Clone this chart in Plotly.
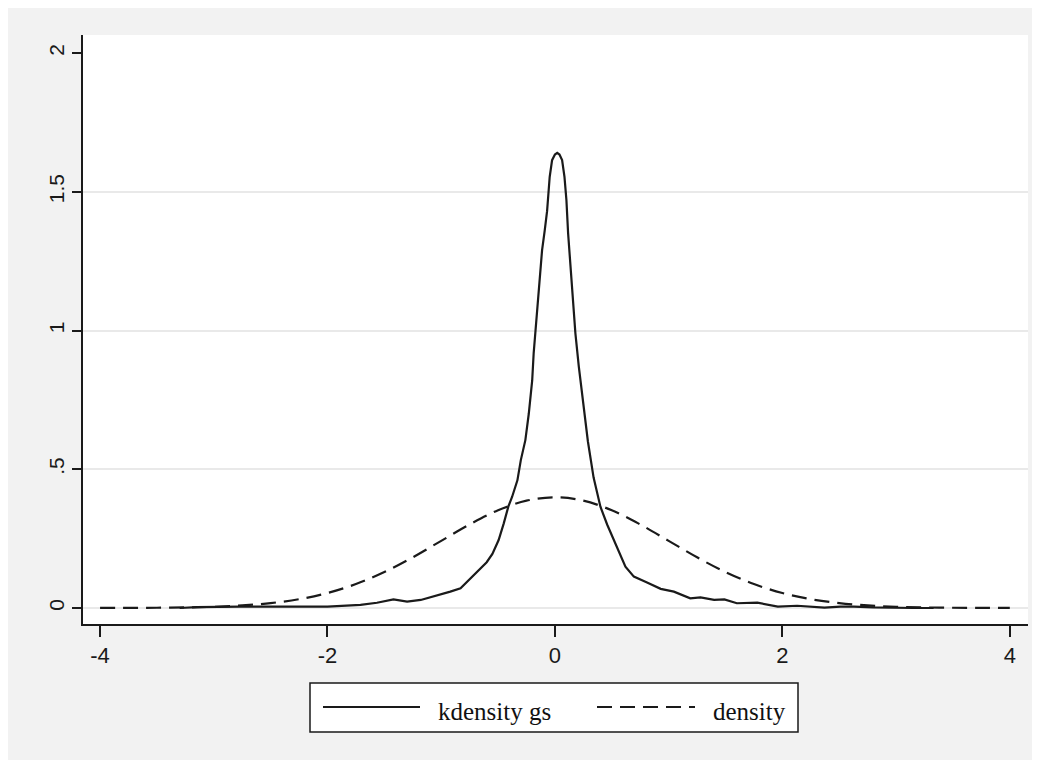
import plotly.graph_objects as go

# ---- data ----
kd_x = [-3.30, -3.15, -2.77, -2.40, -2.00, -1.71, -1.565, -1.42, -1.30, -1.18, -1.07,
        -0.92, -0.83, -0.77, -0.72, -0.66, -0.60, -0.55, -0.495, -0.45, -0.41, -0.377,
        -0.33, -0.30, -0.26, -0.23, -0.20, -0.187, -0.157, -0.134, -0.113, -0.09, -0.069,
        -0.046, -0.025, 0.00, 0.02, 0.04, 0.063, 0.084, 0.101, 0.116, 0.136, 0.16, 0.18,
        0.21, 0.225, 0.25, 0.29, 0.34, 0.40, 0.46, 0.533, 0.62, 0.694, 0.75, 0.81, 0.93,
        1.046, 1.19, 1.28, 1.40, 1.49, 1.60, 1.78, 1.96, 2.13, 2.37, 2.51, 2.63, 2.80,
        3.16, 3.33]
kd_y = [0.000, 0.003, 0.005, 0.004, 0.005, 0.011, 0.019, 0.031, 0.023, 0.029, 0.041,
        0.059, 0.071, 0.095, 0.118, 0.140, 0.165, 0.195, 0.245, 0.305, 0.365, 0.400,
        0.460, 0.533, 0.605, 0.700, 0.820, 0.918, 1.062, 1.180, 1.290, 1.360, 1.430,
        1.554, 1.614, 1.634, 1.640, 1.634, 1.614, 1.554, 1.470, 1.350, 1.230, 1.110, 0.990,
        0.870, 0.820, 0.740, 0.600, 0.470, 0.365, 0.300, 0.230, 0.149, 0.113, 0.104, 0.092, 0.069,
        0.059, 0.035, 0.038, 0.029, 0.031, 0.017, 0.019, 0.005, 0.008, 0.001, 0.005, 0.005, 0.002,
        0.000, 0.000]

dn_x = [-4.0, -3.75, -3.5, -3.25, -3.0, -2.75, -2.5, -2.25, -2.0, -1.75, -1.5, -1.25,
        -1.0, -0.75, -0.5, -0.25, 0.0, 0.25, 0.5, 0.75, 1.0, 1.25, 1.5, 1.75, 2.0,
        2.25, 2.5, 2.75, 3.0, 3.25, 3.5, 3.75, 4.0]
dn_y = [0.0001, 0.0004, 0.0009, 0.002, 0.0044, 0.0091, 0.0175, 0.0317, 0.054, 0.0863,
        0.1295, 0.1826, 0.242, 0.3011, 0.3521, 0.3867, 0.3989, 0.3867, 0.3521, 0.3011,
        0.242, 0.1826, 0.1295, 0.0863, 0.054, 0.0317, 0.0175, 0.0091, 0.0044, 0.002,
        0.0009, 0.0004, 0.0001]

x_ticks = [-4, -2, 0, 2, 4]
x_tick_text = ["-4", "-2", "0", "2", "4"]
y_ticks = [0, 0.5, 1, 1.5, 2]
y_tick_text = ["0", ".5", "1", "1.5", "2"]
grid_vals = [0, 0.5, 1, 1.5]
legend_labels = ["kdensity gs", "density"]

X_RANGE = [-4.15, 4.16]
Y_RANGE = [-0.0577, 2.065]

OFF = 8  # page body margin
W, H = 1032, 752
ML, MR, MT, MB = 83 - OFF, 12, 35 - OFF, 136
PW = W - ML - MR
PH = H - MT - MB


def px_x(p):
    return (p - OFF - ML) / PW


def px_y(p):
    return (H - MB - (p - OFF)) / PH


fig = go.Figure()
fig.add_trace(go.Scatter(x=kd_x, y=kd_y, mode="lines", name=legend_labels[0],
                         line=dict(color="#1a1a1a", width=2.2), showlegend=False))
fig.add_trace(go.Scatter(x=dn_x, y=dn_y, mode="lines", name=legend_labels[1], yaxis="y2",
                         line=dict(color="#1a1a1a", width=2.2, dash="15px,8px", shape="spline"),
                         showlegend=False))

shapes = []
# legend box
shapes.append(dict(type="rect", xref="paper", yref="paper", x0=px_x(310), x1=px_x(798),
                   y0=px_y(732), y1=px_y(683), fillcolor="white",
                   line=dict(color="#1a1a1a", width=1.5)))
shapes.append(dict(type="line", xref="paper", yref="paper", x0=px_x(323), x1=px_x(420),
                   y0=px_y(707), y1=px_y(707), line=dict(color="#1a1a1a", width=2.2)))
shapes.append(dict(type="line", xref="paper", yref="paper", x0=px_x(597), x1=px_x(695),
                   y0=px_y(707), y1=px_y(707),
                   line=dict(color="#1a1a1a", width=2.2, dash="15px,8px")))

annotations = [
    dict(text=legend_labels[0], xref="paper", yref="paper", x=px_x(436), y=px_y(711),
         xanchor="left", yanchor="middle", showarrow=False,
         font=dict(family="Liberation Serif", size=25, color="#111")),
    dict(text=legend_labels[1], xref="paper", yref="paper", x=px_x(711), y=px_y(711),
         xanchor="left", yanchor="middle", showarrow=False,
         font=dict(family="Liberation Serif", size=25, color="#111")),
]

fig.update_layout(
    width=W, height=H,
    margin=dict(l=ML, r=MR, t=MT, b=MB, pad=0),
    paper_bgcolor="#f2f2f2",
    plot_bgcolor="white",
    shapes=shapes,
    annotations=annotations,
    showlegend=False,
    xaxis=dict(range=X_RANGE, tickvals=x_ticks, ticktext=x_tick_text, showgrid=False,
               zeroline=False, showline=True, linecolor="#1a1a1a", linewidth=2,
               ticks="outside", ticklen=11, tickwidth=2, tickcolor="#1a1a1a",
               tickfont=dict(family="Liberation Sans", size=22, color="#1a1a1a")),
    yaxis=dict(range=Y_RANGE, tickvals=y_ticks, ticktext=y_tick_text, showgrid=False,
               zeroline=False, showline=True, linecolor="#1a1a1a", linewidth=2,
               ticks="outside", ticklen=9, tickwidth=2, tickcolor="#1a1a1a",
               tickangle=-90,
               tickfont=dict(family="Liberation Sans", size=21, color="#1a1a1a")),
    yaxis2=dict(range=Y_RANGE, overlaying="y", side="left", tickvals=grid_vals,
                showticklabels=False, ticks="", showgrid=True, gridcolor="#e9e9e9",
                gridwidth=2, zeroline=False, showline=False),
)

fig.write_html("out.html")
